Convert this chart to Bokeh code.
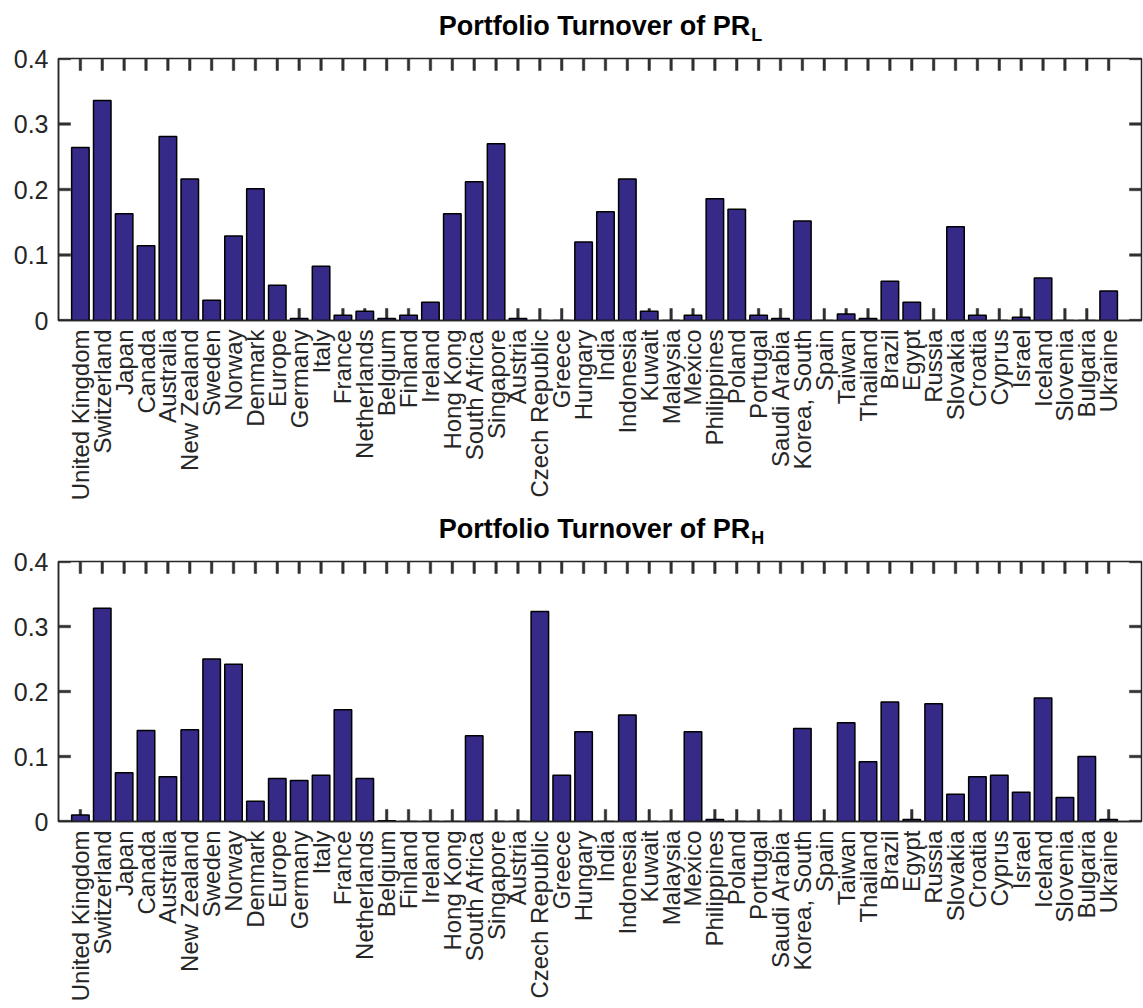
import numpy as np
from bokeh.plotting import figure
from bokeh.models import FixedTicker, Range1d, ColumnDataSource
from bokeh.layouts import column
from bokeh.embed import file_html
from bokeh.resources import INLINE
from bokeh.core.properties import value

countries = ["United Kingdom", "Switzerland", "Japan", "Canada", "Australia", "New Zealand",
             "Sweden", "Norway", "Denmark", "Europe", "Germany", "Italy", "France",
             "Netherlands", "Belgium", "Finland", "Ireland", "Hong Kong", "South Africa",
             "Singapore", "Austria", "Czech Republic", "Greece", "Hungary", "India",
             "Indonesia", "Kuwait", "Malaysia", "Mexico", "Philippines", "Poland",
             "Portugal", "Saudi Arabia", "Korea, South", "Spain", "Taiwan", "Thailand",
             "Brazil", "Egypt", "Russia", "Slovakia", "Croatia", "Cyprus", "Israel",
             "Iceland", "Slovenia", "Bulgaria", "Ukraine"]

turnover_L = [0.264, 0.336, 0.163, 0.114, 0.281, 0.216, 0.031, 0.129, 0.201, 0.054,
              0.003, 0.083, 0.008, 0.014, 0.003, 0.008, 0.028, 0.163, 0.212, 0.270,
              0.003, 0.0, 0.0, 0.120, 0.166, 0.216, 0.014, 0.0, 0.008, 0.186,
              0.170, 0.008, 0.003, 0.152, 0.0, 0.010, 0.003, 0.060, 0.028, 0.0,
              0.143, 0.008, 0.0, 0.005, 0.065, 0.0, 0.0, 0.045]

turnover_H = [0.010, 0.328, 0.075, 0.140, 0.069, 0.141, 0.250, 0.242, 0.031, 0.066,
              0.063, 0.071, 0.172, 0.066, 0.001, 0.0, 0.0, 0.0, 0.132, 0.0,
              0.0, 0.323, 0.071, 0.138, 0.0, 0.164, 0.0, 0.0, 0.138, 0.003,
              0.0, 0.0, 0.0, 0.143, 0.0, 0.152, 0.092, 0.184, 0.003, 0.181,
              0.042, 0.069, 0.071, 0.045, 0.190, 0.037, 0.100, 0.003]

y_ticks = [0, 0.1, 0.2, 0.3, 0.4]
y_tick_labels = ["0", "0.1", "0.2", "0.3", "0.4"]

title_main = "Portfolio Turnover of PR"
subscripts = ["L", "H"]

FONT = "Liberation Sans"
AXC = "#262626"
BAR = "#352A87"
W = 1143
X_END = 49.5
TICK = 12
TICK_W = 2.5
TITLE_H = 45


def title_fig(sub):
    t = figure(width=W, height=TITLE_H, x_range=Range1d(0, W), y_range=Range1d(TITLE_H, 0),
               output_backend="svg", toolbar_location=None,
               x_axis_location=None, y_axis_location=None, min_border=0,
               min_border_left=0, min_border_right=0, min_border_top=0,
               min_border_bottom=0)
    t.xgrid.visible = False
    t.ygrid.visible = False
    t.outline_line_color = None
    t.text(x=[730], y=[25], text=[title_main], text_align="right",
           text_baseline="middle", text_font=value(FONT), text_font_size="27px",
           text_font_style="bold", text_color="black")
    t.text(x=[731], y=[34.5], text=[sub], text_align="left",
           text_baseline="middle", text_font=value(FONT), text_font_size="18px",
           text_font_style="bold", text_color="black")
    return t


def bar_fig(vals, height, border_top, border_bottom, frame_h):
    xs = list(range(1, len(countries) + 1))
    n = len(xs)
    m = len(y_ticks)
    p = figure(width=W, height=height,
               x_range=Range1d(0, X_END), y_range=Range1d(0, 0.4),
               output_backend="svg", toolbar_location=None,
               min_border_left=58, min_border_right=2,
               min_border_top=border_top, min_border_bottom=border_bottom)
    p.xgrid.visible = False
    p.ygrid.visible = False
    p.outline_line_color = AXC
    p.outline_line_width = 1.5

    ppu_y = frame_h / 0.4
    ppu_x = (W - 60) / X_END
    ty = TICK / ppu_y
    tx = TICK / ppu_x
    wx = TICK_W / ppu_x
    wy = TICK_W / ppu_y

    # inward tick marks of the box, drawn as thin filled bars
    bottom_ticks = ColumnDataSource(dict(x=xs, b=[0.0] * n, t=[ty] * n))
    p.vbar(x="x", bottom="b", top="t", width=wx, source=bottom_ticks,
           fill_color="#303030", line_color="#303030", line_width=0.5)

    src = ColumnDataSource(dict(x=xs, top=vals))
    p.vbar(x="x", top="top", bottom=0, width=0.8, source=src,
           fill_color=BAR, line_color="black", line_width=1.5)

    top_ticks = ColumnDataSource(dict(x=xs, b=[0.4 - ty] * n, t=[0.4] * n))
    p.vbar(x="x", bottom="b", top="t", width=wx, source=top_ticks,
           fill_color="#303030", line_color="#303030", line_width=0.5)
    side_ticks = ColumnDataSource(dict(y=y_ticks + y_ticks,
                                       l=[0.0] * m + [X_END - tx] * m,
                                       r=[tx] * m + [X_END] * m))
    p.hbar(y="y", left="l", right="r", height=wy, source=side_ticks,
           fill_color="#303030", line_color="#303030", line_width=0.5)

    xa = p.xaxis[0]
    xa.ticker = FixedTicker(ticks=xs)
    xa.major_label_overrides = {i: c for i, c in zip(xs, countries)}
    xa.major_label_orientation = np.pi / 2
    ya = p.yaxis[0]
    ya.ticker = FixedTicker(ticks=y_ticks)
    ya.major_label_overrides = {t: s for t, s in zip(y_ticks, y_tick_labels)}
    for ax in (xa, ya):
        ax.major_tick_in = 0
        ax.major_tick_out = 0
        ax.minor_tick_in = 0
        ax.minor_tick_out = 0
        ax.axis_line_color = AXC
        ax.axis_line_width = 1.5
        ax.major_label_text_font = FONT
        ax.major_label_text_color = AXC
    xa.major_label_text_font_size = "24px"
    ya.major_label_text_font_size = "25px"
    xa.major_label_standoff = 9
    ya.major_label_standoff = 10
    return p


# vertical layout: 45 + 458 + 45 + 460 = 1008
t1 = title_fig(subscripts[0])
p1 = bar_fig(turnover_L, 458, 13, 183, 262)
t2 = title_fig(subscripts[1])
p2 = bar_fig(turnover_H, 460, 13, 187, 260)
layout = column(t1, p1, t2, p2, spacing=0)

open("out.html", "w").write(file_html(layout, INLINE))
